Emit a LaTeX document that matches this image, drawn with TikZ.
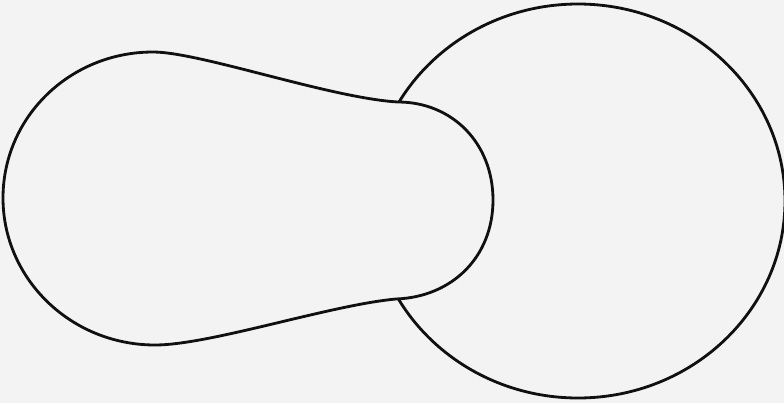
\documentclass[tikz,border=0pt]{standalone}
\usetikzlibrary{calc}
\definecolor{paper}{HTML}{F3F3F3}
\definecolor{ink}{HTML}{101010}
\tikzset{
  outline/.style ={draw=ink, line width=2pt, line join=round},
  lobe/.style    ={outline, fill=paper}
}
\begin{document}
\begin{tikzpicture}[x=0.025cm,y=-0.025cm]
  \fill[paper] (0,0) rectangle (784,403);
  \useasboundingbox (0,0) rectangle (784,403);

  % right disc
  \draw[outline] (578,201) ellipse [x radius=207, y radius=197];

  % left lobe, laid over the disc
  \draw[lobe] (3,198) .. controls (3,117) and (70,52) .. (153,52)
        .. controls (200,52) and (330,98) .. (398,102)
        .. controls (452,102) and (493,143) .. (493,200)
        .. controls (493,257) and (452,297) .. (396,299)
        .. controls (330,305) and (210,345) .. (155,345)
        .. controls (71,345) and (3,279) .. (3,198) -- cycle;
\end{tikzpicture}
\end{document}
